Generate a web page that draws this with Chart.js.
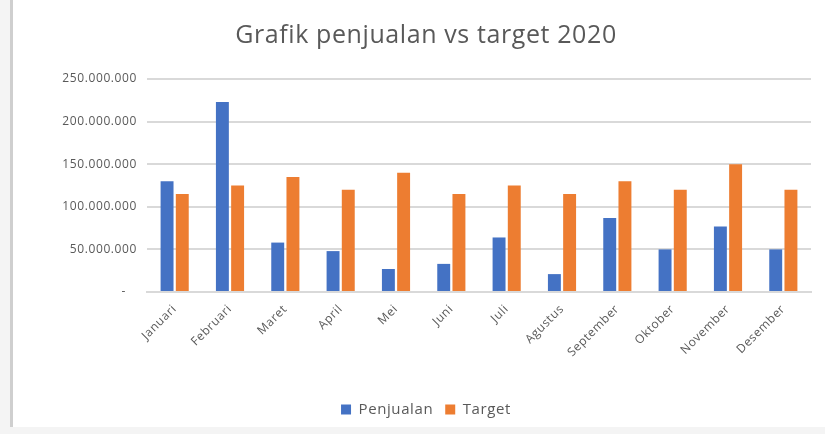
<!DOCTYPE html>
<html>
<head>
<meta charset="utf-8">
<script src="https://cdn.jsdelivr.net/npm/chart.js@4"></script>
<style>
  body { margin: 0; background: #f4f4f4; }
  #wrap { position: relative; width: 825px; height: 434px; background: #f4f4f4; overflow: hidden; }
  #frame {
    position: absolute; left: 10px; top: 0; width: 815px; height: 427px;
    background: #fff; border-left: 3px solid #cfcfcf;
  }
  #frame canvas { display: block; }
</style>
</head>
<body>
<div id="wrap">
  <div id="frame">
    <canvas id="salesChart" width="826" height="427"></canvas>
  </div>
</div>
<script>
const months = ["Januari", "Februari", "Maret", "April", "Mei", "Juni", "Juli",
  "Agustus", "September", "Oktober", "November", "Desember"];
const penjualan = [130000000, 223000000, 58000000, 48000000, 27000000, 33000000,
  64000000, 21000000, 87000000, 50000000, 77000000, 50000000];
const target = [115000000, 125000000, 135000000, 120000000, 140000000, 115000000,
  125000000, 115000000, 130000000, 120000000, 150000000, 120000000];
const yTicks = [0, 50000000, 100000000, 150000000, 200000000, 250000000];

const textColor = "#595959";
const fontFamily = "'Open Sans', 'Liberation Sans', sans-serif";

function formatRupiah(value) {
  if (value === 0) return "-   ";
  return String(value).replace(/\B(?=(\d{3})+(?!\d))/g, ".");
}

// slightly looser lettering for all canvas text
const letterSpacingPlugin = {
  id: "letterSpacing",
  beforeLayout: chart => { chart.ctx.letterSpacing = "0.6px"; },
  beforeDraw: chart => { chart.ctx.letterSpacing = "0.6px"; }
};

document.addEventListener("DOMContentLoaded", function () {
  const canvas = document.getElementById("salesChart");

  new Chart(canvas, {
    type: "bar",
    data: {
      labels: months,
      datasets: [
        {
          label: "Penjualan",
          data: penjualan,
          backgroundColor: "#4472C4",
          barPercentage: 0.85,
          categoryPercentage: 0.55
        },
        {
          label: "Target",
          data: target,
          backgroundColor: "#ED7D31",
          barPercentage: 0.85,
          categoryPercentage: 0.55
        }
      ]
    },
    plugins: [letterSpacingPlugin],
    options: {
      responsive: false,
      animation: false,
      layout: { padding: { top: 0, right: 28, bottom: 0, left: 28 } },
      scales: {
        x: {
          grid: { display: false },
          border: { color: "#d9d9d9", width: 2 },
          ticks: {
            color: textColor,
            font: { family: fontFamily, size: 12 },
            minRotation: 45,
            maxRotation: 45,
            padding: 2
          },
          afterFit: scale => { scale.height = 98; }
        },
        y: {
          min: 0,
          max: 250000000,
          border: { display: false },
          grid: { color: "#d9d9d9", lineWidth: 2, drawTicks: false },
          afterBuildTicks: scale => {
            scale.ticks = yTicks.map(v => ({ value: v }));
          },
          ticks: {
            color: textColor,
            font: { family: fontFamily, size: 12 },
            padding: 10,
            callback: value => formatRupiah(value)
          },
          afterFit: scale => { scale.width = 106; }
        }
      },
      plugins: {
        title: {
          display: true,
          text: "Grafik penjualan vs target 2020",
          color: textColor,
          font: { family: fontFamily, size: 25, weight: "normal" },
          padding: { top: 21, bottom: 28 }
        },
        legend: {
          position: "bottom",
          labels: {
            color: textColor,
            font: { family: fontFamily, size: 15 },
            boxWidth: 10,
            boxHeight: 10,
            padding: 12
          }
        },
        tooltip: { enabled: false }
      }
    }
  });
});
</script>
</body>
</html>
